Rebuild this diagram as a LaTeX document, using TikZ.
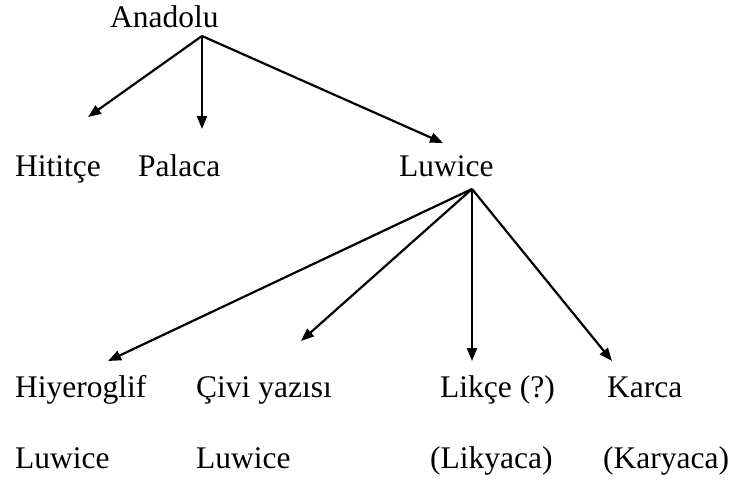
\documentclass[tikz,border=0pt]{standalone}
\usepackage{fontspec}
\setmainfont{Liberation Serif}
\usetikzlibrary{arrows.meta}
\begin{document}
\begin{tikzpicture}[x=1pt,y=-1pt,
  lbl/.style={anchor=base west,inner sep=0pt,font=\fontsize{31.5}{37}\selectfont},
  arr/.style={line width=2.2pt,-{Triangle[length=13pt,width=10pt]}}]
\useasboundingbox (0,0) rectangle (730,482);
% texts
\node[lbl] (anadolu) at (110,27) {Anadolu};
\node[lbl] (hititce) at (15,176) {Hititçe};
\node[lbl] (palaca) at (138,176) {Palaca};
\node[lbl] (luwice) at (399,176) {Luwice};
\node[lbl] (hiyero) at (15,397) {Hiyeroglif};
\node[lbl] (civi) at (196,397) {Çivi yazısı};
\node[lbl] (likce) at (440,397) {Likçe (?)};
\node[lbl] (karca) at (607,397) {Karca};
\node[lbl] (luw1) at (15,468) {Luwice};
\node[lbl] (luw2) at (196,468) {Luwice};
\node[lbl] (likya) at (430,468) {(Likyaca)};
\node[lbl] (karya) at (603,468) {(Karyaca)};
% branch points and arrow tips
\coordinate (a0) at (202,36);
\coordinate (tHit) at (88,117);
\coordinate (tPal) at (202,129);
\coordinate (tLuw) at (443,143);
\coordinate (b0) at (472,189);
\coordinate (tHiy) at (108,361);
\coordinate (tCiv) at (301,341);
\coordinate (tLik) at (472,361);
\coordinate (tKar) at (612,361);
% arrows
\draw[arr] (a0) -- (tHit);
\draw[arr] (a0) -- (tPal);
\draw[arr] (a0) -- (tLuw);
\draw[arr] (b0) -- (tHiy);
\draw[arr] (b0) -- (tCiv);
\draw[arr] (b0) -- (tLik);
\draw[arr] (b0) -- (tKar);
\end{tikzpicture}
\end{document}
